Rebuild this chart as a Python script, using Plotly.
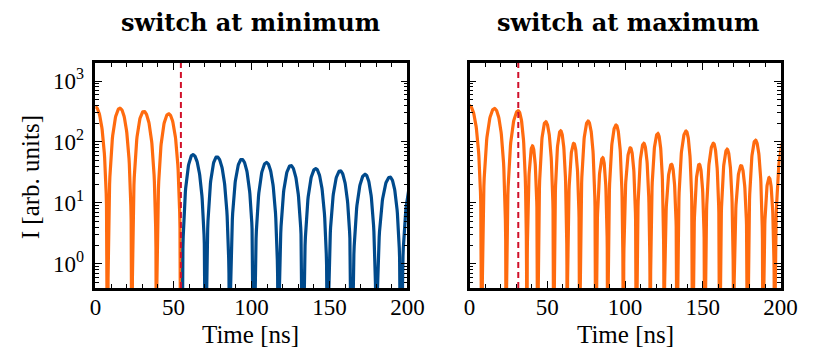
import numpy as np
import plotly.graph_objects as go

# ---- data: each lobe = (start zero, peak time, end zero, peak value) ----
# left panel ("switch at minimum")
left_pre_z0   = [-7.8, 7.9, 23.5, 39.2]
left_pre_pk   = [-0.1, 15.7, 31.0, 46.9]
left_pre_z1   = [7.9, 23.5, 39.2, 54.8]
left_pre_amp  = [380, 358, 318, 290]

left_post_z0  = [55.3, 70.8, 86.2, 101.8, 117.4, 133.2, 149.0, 164.5, 180.1, 196.0]
left_post_pk  = [62.5, 77.9, 93.8, 109.6, 125.2, 141.2, 156.9, 172.9, 188.8, 203.8]
left_post_z1  = [70.8, 86.2, 101.8, 117.4, 133.2, 149.0, 164.5, 180.1, 196.0, 211.6]
left_post_amp = [62, 57, 52, 46, 41, 36.5, 33.5, 29.5, 26.5, 24]

# right panel ("switch at maximum")
right_z0  = [-8.0, 8.0, 23.6, 36.8, 44.0, 54.3, 62.8, 71.0, 81.3, 88.9, 98.8, 107.4,
             116.2, 125.1, 133.6, 143.6, 151.4, 161.0, 169.8, 179.0, 188.8, 196.2]
right_pk  = [-0.1, 16.0, 31.3, 40.4, 48.9, 58.5, 67.0, 76.2, 85.6, 94.2, 103.4, 112.0,
             121.0, 129.8, 139.2, 147.7, 156.8, 165.6, 174.6, 183.8, 192.6, 202.5]
right_z1  = [8.0, 23.6, 36.8, 44.0, 54.3, 62.8, 71.0, 81.3, 88.9, 98.8, 107.4, 116.2,
             125.1, 133.6, 143.6, 151.4, 161.0, 169.8, 179.0, 188.8, 196.2, 209.0]
right_amp = [395, 355, 325, 86, 215, 153, 95, 220, 55, 190, 80, 95,
             138, 43, 151, 43, 95, 76, 41, 107, 26, 110]

switch_left = 54.8
switch_right = 31.3

x_ticks = [0, 50, 100, 150, 200]
y_tickvals = [1, 10, 100, 1000]
y_ticktext = ["10<sup>0</sup>", "10<sup>1</sup>", "10<sup>2</sup>", "10<sup>3</sup>"]

ORANGE = "#ff6b0f"
BLUE = "#004a8c"
RED = "#d0102a"


def build(z0s, pks, z1s, amps, n=80):
    ts, ys = [], []
    for z0, p, z1, a in zip(z0s, pks, z1s, amps):
        t = np.linspace(z0, z1, n)
        rise = a * np.sin(0.5 * np.pi * (t - z0) / (p - z0)) ** 2
        fall = a * np.cos(0.5 * np.pi * (t - p) / (z1 - p)) ** 2
        y = np.where(t < p, rise, fall)
        ts.append(t)
        ys.append(y)
    t = np.concatenate(ts)
    y = np.maximum(np.concatenate(ys), 1e-3)
    return t, y


fig = go.Figure()

t1, y1 = build(left_pre_z0, left_pre_pk, left_pre_z1, left_pre_amp)
t2, y2 = build(left_post_z0, left_post_pk, left_post_z1, left_post_amp)
t3, y3 = build(right_z0, right_pk, right_z1, right_amp)

fig.add_trace(go.Scatter(x=t1, y=y1, mode="lines", line=dict(color=ORANGE, width=3.2),
                         xaxis="x", yaxis="y", showlegend=False))
fig.add_trace(go.Scatter(x=t2, y=y2, mode="lines", line=dict(color=BLUE, width=3.2),
                         xaxis="x", yaxis="y", showlegend=False))
fig.add_trace(go.Scatter(x=t3, y=y3, mode="lines", line=dict(color=ORANGE, width=3.2),
                         xaxis="x2", yaxis="y2", showlegend=False))

for xv, xr, yr in [(switch_left, "x", "y domain"), (switch_right, "x2", "y2 domain")]:
    fig.add_shape(type="line", x0=xv, x1=xv, y0=0, y1=1, xref=xr, yref=yr,
                  line=dict(color=RED, width=2, dash="6px,4px"), layer="above")

FONT = "Liberation Serif"
minor_y = [m * 10 ** d for d in range(-1, 4) for m in range(2, 10)]

xcommon = dict(range=[0, 200], tickvals=x_ticks, ticks="inside", ticklen=7, tickwidth=1.2,
               tickcolor="black", showline=True, linecolor="black", linewidth=2.5,
               mirror="allticks", showgrid=False, zeroline=False, ticklabelstandoff=-3,
               tickfont=dict(family=FONT, size=23, color="black"),
               minor=dict(ticks="inside", ticklen=4, tickwidth=1, tickcolor="black",
                          dtick=10, showgrid=False))
ycommon = dict(type="log", range=[np.log10(0.4), np.log10(1980)], tickvals=y_tickvals,
               ticktext=y_ticktext, ticks="inside", ticklen=7, tickwidth=1.2,
               tickcolor="black", showline=True, linecolor="black", linewidth=2.5,
               mirror="allticks", showgrid=False, zeroline=False,
               tickfont=dict(family=FONT, size=23, color="black"),
               minor=dict(ticks="inside", ticklen=4, tickwidth=1, tickcolor="black",
                          tickmode="array", tickvals=minor_y, showgrid=False))

ydom = [68 / 356, 293 / 356]
fig.update_layout(
    width=819, height=356,
    margin=dict(l=0, r=0, t=0, b=0),
    paper_bgcolor="white", plot_bgcolor="white",
    xaxis=dict(domain=[92 / 819, 413 / 819], anchor="y", **xcommon),
    yaxis=dict(domain=ydom, anchor="x", ticklabelstandoff=4, **ycommon),
    xaxis2=dict(domain=[477 / 819, 797 / 819], anchor="y2", **xcommon),
    yaxis2=dict(domain=ydom, anchor="x2", showticklabels=False, **ycommon),
    font=dict(family=FONT, color="black"),
)

ann = dict(xref="paper", yref="paper", showarrow=False,
           font=dict(family="DejaVu Serif", size=24, color="black"))
fig.add_annotation(x=252 / 819, y=1 - 22 / 356, text="<b>switch at minimum</b>",
                   xanchor="center", yanchor="middle", **ann)
fig.add_annotation(x=640 / 819, y=1 - 22 / 356, text="<b>switch at maximum</b>",
                   xanchor="center", yanchor="middle", **ann)
ann2 = dict(xref="paper", yref="paper", showarrow=False, font=dict(family=FONT, size=25, color="black"))
fig.add_annotation(x=252 / 819, y=1 - 334 / 356, text="Time [ns]", xanchor="center", yanchor="middle", **ann2)
fig.add_annotation(x=637 / 819, y=1 - 334 / 356, text="Time [ns]", xanchor="center", yanchor="middle", **ann2)
fig.add_annotation(x=26 / 819, y=1 - 177 / 356, text="I [arb. units]", textangle=-90,
                   xanchor="center", yanchor="middle", **ann2)

fig.write_html("out.html")
